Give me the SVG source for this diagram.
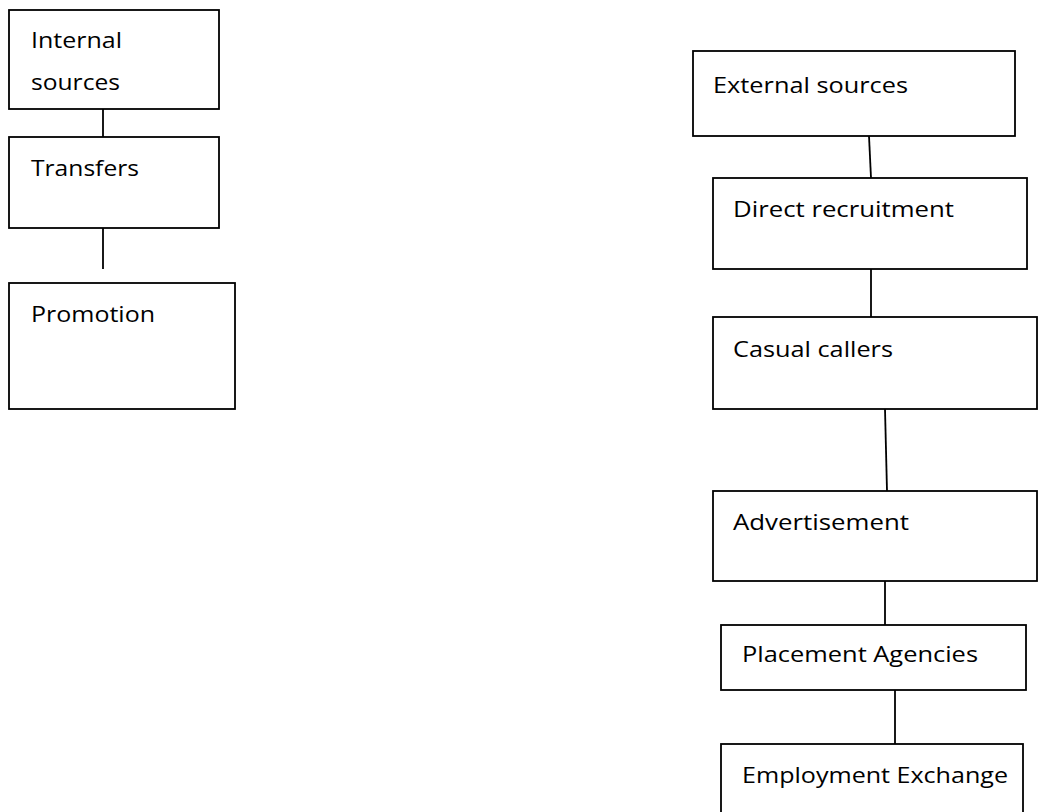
<svg xmlns="http://www.w3.org/2000/svg" width="1049" height="812" viewBox="0 0 1049 812">
  <style>
    .box { fill: #ffffff; stroke: #000000; stroke-width: 1.8; }
    .link { stroke: #000000; stroke-width: 1.8; fill: none; }
    .lbl { font-family: "Open Sans", "Liberation Sans", sans-serif; font-size: 22px; fill: #000000; }
  </style>
  <rect width="1049" height="812" fill="#ffffff"/>

  <!-- connectors -->
  <g id="connectors">
    <line class="link" x1="103" y1="109" x2="103" y2="137"/>
    <line class="link" x1="103" y1="228" x2="103" y2="269"/>
    <line class="link" x1="869" y1="136" x2="871" y2="178"/>
    <line class="link" x1="871" y1="269" x2="871" y2="317"/>
    <line class="link" x1="885" y1="409" x2="887" y2="491"/>
    <line class="link" x1="885" y1="581" x2="885" y2="625"/>
    <line class="link" x1="895" y1="690" x2="895" y2="744"/>
  </g>

  <!-- internal sources branch -->
  <g id="internal-sources">
    <rect class="box" x="9" y="10" width="210" height="99"/>
    <text class="lbl" x="31" y="48" textLength="91" lengthAdjust="spacingAndGlyphs">Internal</text>
    <text class="lbl" x="31" y="90" textLength="89" lengthAdjust="spacingAndGlyphs">sources</text>
  </g>
  <g id="transfers">
    <rect class="box" x="9" y="137" width="210" height="91"/>
    <text class="lbl" x="31" y="176" textLength="108" lengthAdjust="spacingAndGlyphs">Transfers</text>
  </g>
  <g id="promotion">
    <rect class="box" x="9" y="283" width="226" height="126"/>
    <text class="lbl" x="31" y="322" textLength="124" lengthAdjust="spacingAndGlyphs">Promotion</text>
  </g>

  <!-- external sources branch -->
  <g id="external-sources">
    <rect class="box" x="693" y="51" width="322" height="85"/>
    <text class="lbl" x="713" y="93" textLength="195" lengthAdjust="spacingAndGlyphs">External sources</text>
  </g>
  <g id="direct-recruitment">
    <rect class="box" x="713" y="178" width="314" height="91"/>
    <text class="lbl" x="733" y="217" textLength="221" lengthAdjust="spacingAndGlyphs">Direct recruitment</text>
  </g>
  <g id="casual-callers">
    <rect class="box" x="713" y="317" width="324" height="92"/>
    <text class="lbl" x="733" y="357" textLength="160" lengthAdjust="spacingAndGlyphs">Casual callers</text>
  </g>
  <g id="advertisement">
    <rect class="box" x="713" y="491" width="324" height="90"/>
    <text class="lbl" x="733" y="530" textLength="176" lengthAdjust="spacingAndGlyphs">Advertisement</text>
  </g>
  <g id="placement-agencies">
    <rect class="box" x="721" y="625" width="305" height="65"/>
    <text class="lbl" x="742" y="662" textLength="236" lengthAdjust="spacingAndGlyphs">Placement Agencies</text>
  </g>
  <g id="employment-exchange">
    <rect class="box" x="721" y="744" width="302" height="80"/>
    <text class="lbl" x="742" y="783" textLength="266" lengthAdjust="spacingAndGlyphs">Employment Exchange</text>
  </g>
</svg>
